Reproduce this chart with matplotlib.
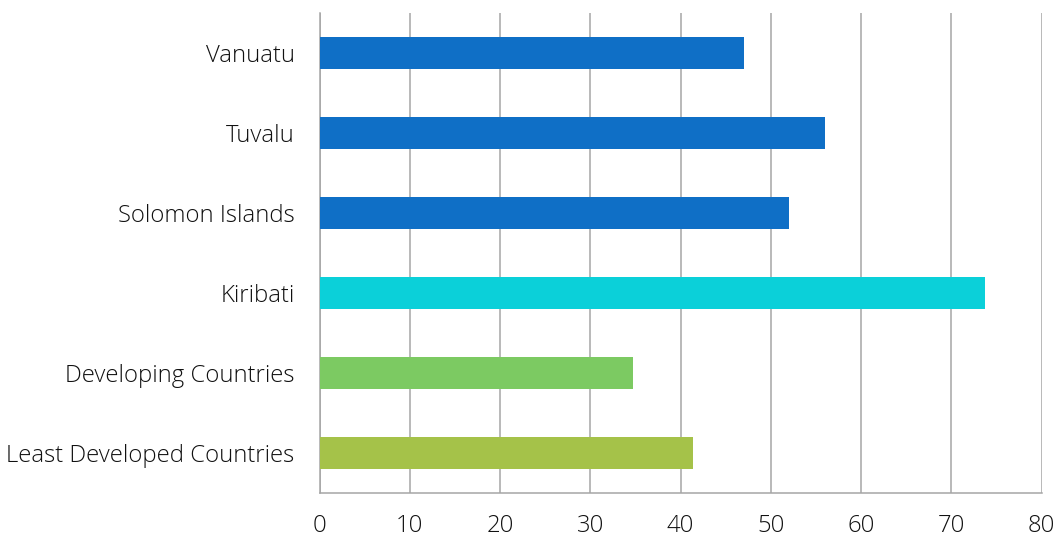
import numpy as np
import matplotlib.pyplot as plt

# categories bottom to top
countries = ["Least Developed Countries", "Developing Countries", "Kiribati",
             "Solomon Islands", "Tuvalu", "Vanuatu"]
values = [41.4, 34.7, 73.7, 52.0, 56.0, 47.0]
colors = ["#A5C249", "#7CCA62", "#0BD0D9", "#0F6FC6", "#0F6FC6", "#0F6FC6"]
xticks = [0, 10, 20, 30, 40, 50, 60, 70, 80]

plt.rcParams['font.family'] = ['Open Sans', 'DejaVu Sans']
plt.rcParams['font.weight'] = 'light'

fig = plt.figure(figsize=(10.56, 5.38), dpi=100)
ax = fig.add_axes([319.5/1056, 1-493/538, (1041.5-319.5)/1056, (493-13)/538])

y = np.arange(len(countries))
ax.barh(y, values, height=0.4, color=colors, zorder=3)
ax.set_ylim(-0.5, len(countries)-0.5)
ax.set_xlim(0, 80)
ax.set_xticks(xticks)
ax.set_yticks(y)
ax.set_yticklabels(countries)

ax.grid(axis='x', color='#A6A6A6', linewidth=1.1, zorder=0)
for s in ['top', 'right']:
    ax.spines[s].set_visible(False)
for s in ['left', 'bottom']:
    ax.spines[s].set_color('#A6A6A6')
    ax.spines[s].set_linewidth(1.1)
ax.tick_params(length=0, labelsize=17.2, colors='#111111')
ax.tick_params(axis='x', pad=15)
ax.tick_params(axis='y', pad=18)

fig.savefig('out.png', dpi=100)
